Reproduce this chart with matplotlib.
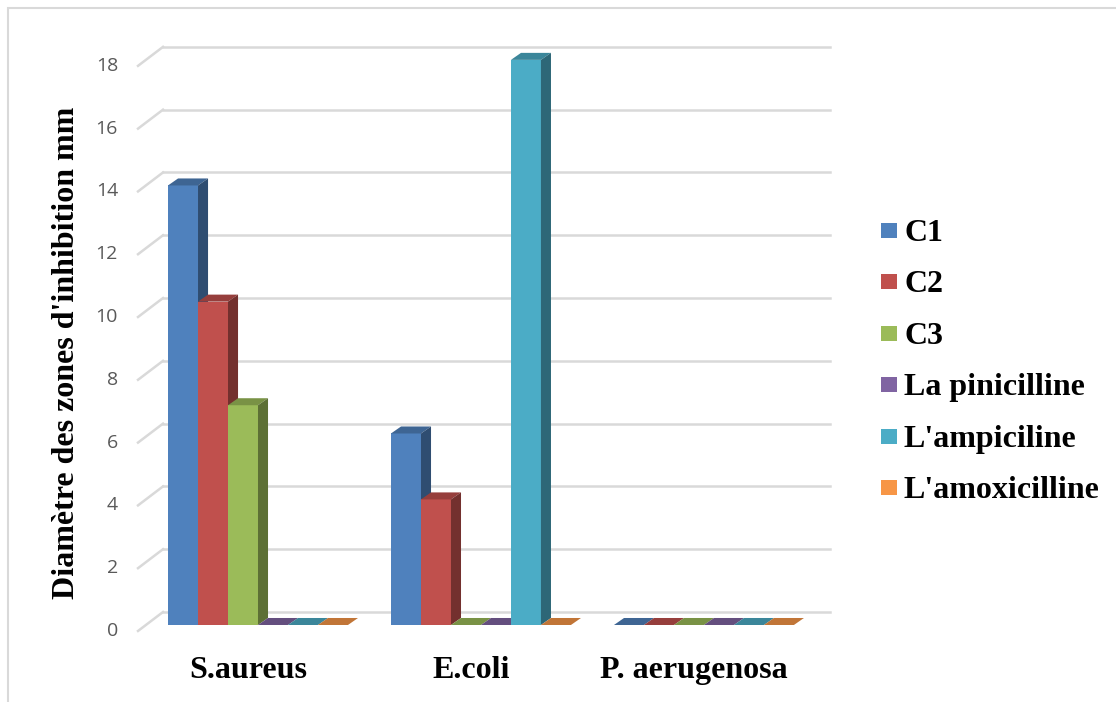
import numpy as np
import matplotlib.pyplot as plt
from matplotlib.patches import Polygon, Rectangle
from matplotlib.colors import to_rgb

########## Data ##########
groups = ['S.aureus', 'E.coli', 'P. aerugenosa']
series = ['C1', 'C2', 'C3', 'La pinicilline', "L'ampiciline", "L'amoxicilline"]

C1 = [14, 6.1, 0]
C2 = [10.3, 4, 0]
C3 = [7, 0, 0]
pinicilline = [0, 0, 0]
ampiciline = [0, 18, 0]
amoxicilline = [0, 0, 0]
values = [C1, C2, C3, pinicilline, ampiciline, amoxicilline]

yticks = [0, 2, 4, 6, 8, 10, 12, 14, 16, 18]
colors = ['#4F81BD', '#C0504D', '#9BBB59', '#8064A2', '#4BACC6', '#F79646']

########## Fake 3D geometry (in data units) ##########
W = 0.1345          # bar width
DX, DY = 0.045, 0.223      # bar depth
WALL_DY = 0.414     # back wall offset
FRONT_DY = -0.19    # floor front offset
FLOOR_X0, WALL_X0, WALL_X1 = -0.538, -0.426, 2.565
GRID = '#d9d9d9'


def shade(c, f):
    r, g, b = to_rgb(c)
    return (r * f, g * f, b * f)


fig = plt.figure(figsize=(11.16, 7.02), dpi=100)
ax = fig.add_axes([130 / 1116, 62 / 702, 720 / 1116, 620 / 702])
ax.set_xlim(-0.574, 2.655)
ax.set_ylim(-0.478, 19.27)
ax.axis('off')

# chart area border
fig.patches.append(Rectangle((8 / 1116, -0.1), 1.2, (702 - 8) / 702 + 0.1,
                             transform=fig.transFigure, fill=False,
                             edgecolor=GRID, lw=1.5))

# gridlines: back wall + floor diagonal
for t in yticks:
    ax.plot([WALL_X0, WALL_X1], [t + WALL_DY, t + WALL_DY], color=GRID, lw=1.8, zorder=1)
    ax.plot([FLOOR_X0, WALL_X0], [t + FRONT_DY, t + WALL_DY], color=GRID, lw=1.8, zorder=1)
    ax.text(FLOOR_X0 - 0.09, t + FRONT_DY, str(t), ha='right', va='center',
            fontsize=14, color='#595959', family='Open Sans', clip_on=False)

# bars, drawn left to right so later faces cover earlier side faces
z = 2
x = np.arange(len(groups))
for g in range(len(groups)):
    for j, vals in enumerate(values):
        h = vals[g]
        x0 = x[g] - 3 * W + j * W
        c = colors[j]
        if h > 0:
            ax.bar(x0, h, width=W, align='edge', color=c, lw=0, zorder=z)
        top = Polygon([(x0, h), (x0 + W, h), (x0 + W + DX, h + DY), (x0 + DX, h + DY)],
                      closed=True, facecolor=shade(c, 0.78), lw=0, zorder=z)
        ax.add_patch(top)
        if h > 0:
            side = Polygon([(x0 + W, 0), (x0 + W + DX, DY), (x0 + W + DX, h + DY), (x0 + W, h)],
                           closed=True, facecolor=shade(c, 0.6), lw=0, zorder=z)
            ax.add_patch(side)
        z += 1

# category labels
for g, name in enumerate(groups):
    ax.text(x[g] - 0.045, -1.69, name, ha='center', va='baseline', fontsize=23,
            fontweight='bold', family='Liberation Serif', clip_on=False)

# axis title
fig.text(67 / 1116, 1 - 353 / 702, "Diamètre des zones d'inhibition mm", rotation=90,
         ha='center', va='center', fontsize=23, fontweight='bold', family='Liberation Serif')

# legend
for i, (name, c) in enumerate(zip(series, colors)):
    ytop = 223 + 51.4 * i
    fig.patches.append(Rectangle((881 / 1116, 1 - (ytop + 15) / 702), 16 / 1116, 15 / 702,
                                 transform=fig.transFigure, facecolor=c, lw=0))
    fig.text(904 / 1116, 1 - (ytop + 18) / 702, name, ha='left', va='baseline',
             fontsize=23, fontweight='bold', family='Liberation Serif')

fig.savefig('out.png', dpi=100)
